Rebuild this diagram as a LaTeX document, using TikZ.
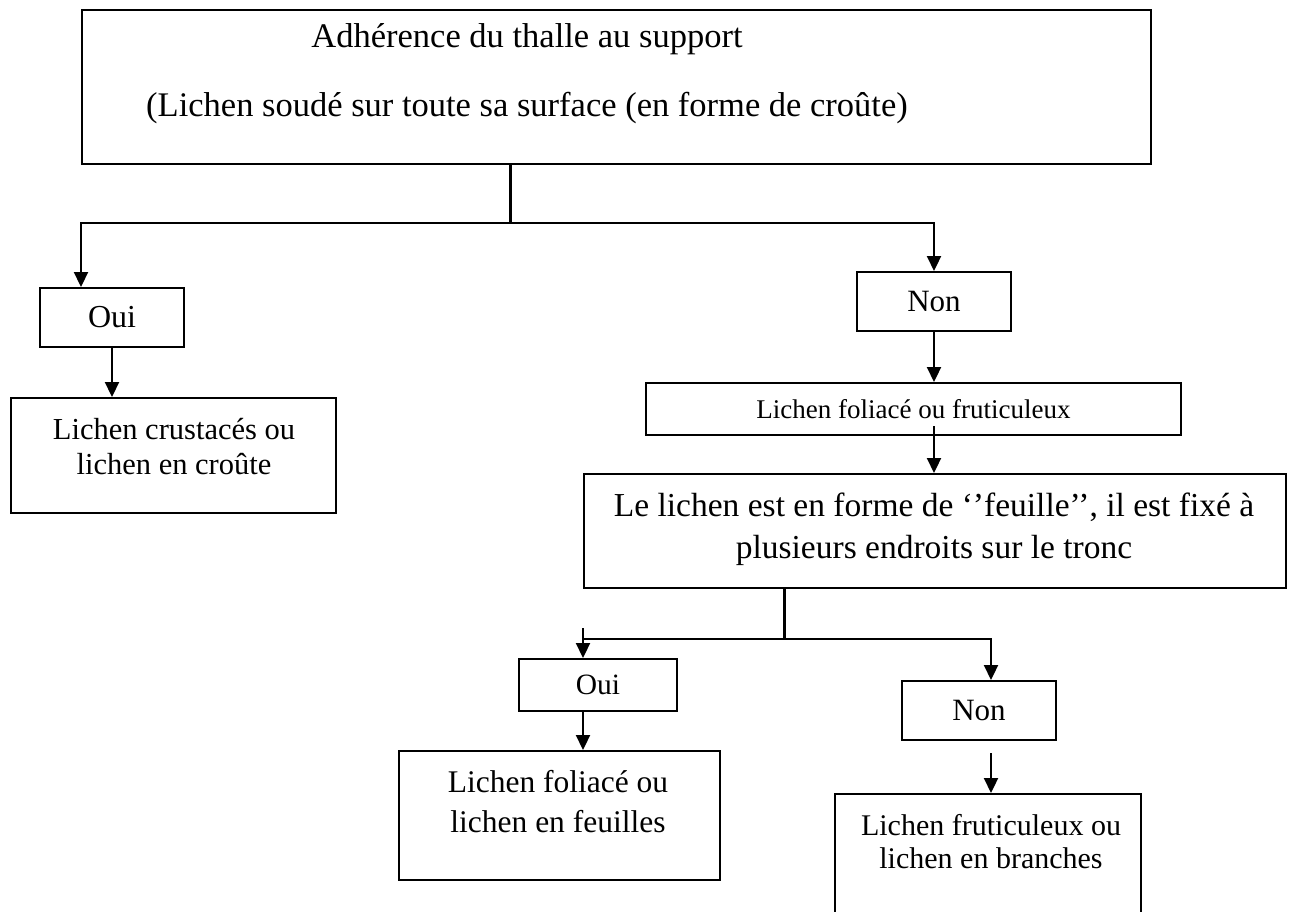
\documentclass[tikz,border=0pt]{standalone}
\usepackage{fontspec}
\setmainfont{Liberation Serif}
\usetikzlibrary{arrows.meta}

\begin{document}
\begin{tikzpicture}[x=1pt,y=-1pt,
  box/.style={draw,line width=2pt,anchor=north west,inner sep=0pt},
  txt/.style={align=center,inner sep=0pt,font=\fontsize{31}{36}\selectfont},
  ln/.style={line width=2.2pt},
  arr/.style={line width=2.2pt,-{Triangle[length=15pt,width=14pt]}}]

\useasboundingbox (0,0) rectangle (1308,911);
\clip (0,0) rectangle (1308,911);


\node[box,minimum width=1069pt,minimum height=154pt] (top) at (81,9) {};
\node[box,minimum width=144pt,minimum height=59pt] (oui1) at (39,287) {};
\node[box,minimum width=325pt,minimum height=115pt] (crust) at (10,397) {};
\node[box,minimum width=154pt,minimum height=59pt] (non1) at (856,271) {};
\node[box,minimum width=535pt,minimum height=52pt] (folfru) at (645,382) {};
\node[box,minimum width=702pt,minimum height=114pt] (big) at (583,473) {};
\node[box,minimum width=158pt,minimum height=52pt] (oui2) at (518,658) {};
\node[box,minimum width=154pt,minimum height=59pt] (non2) at (901,680) {};
\node[box,minimum width=321pt,minimum height=129pt] (leaf) at (398,750) {};
\node[box,minimum width=306pt,minimum height=130pt] (branch) at (834,793) {};


\node[txt,font=\fontsize{34.5}{40}\selectfont] (top-t) at (527,74)
  {Adhérence du thalle au support\\[29pt](Lichen soudé sur toute sa surface (en forme de croûte)};
\node[txt,font=\fontsize{32}{37}\selectfont] (oui1-t) at (oui1) {Oui};
\node[txt,font=\fontsize{30.5}{35}\selectfont] (crust-t) at (174,447) {Lichen crustacés ou\\lichen en croûte};
\node[txt] (non1-t) at (non1) {Non};
\node[txt,font=\fontsize{27}{30}\selectfont] (folfru-t) at (folfru) {Lichen foliacé ou fruticuleux};
\node[txt,font=\fontsize{33.5}{42}\selectfont] (big-t) at (934,529)
  {Le lichen est en forme de ‘’feuille’’, il est fixé à\\plusieurs endroits sur le tronc};
\node[txt,font=\fontsize{29.5}{35}\selectfont] (oui2-t) at (oui2) {Oui};
\node[txt] (non2-t) at (non2) {Non};
\node[txt,font=\fontsize{31.5}{40}\selectfont] (leaf-t) at (558,802) {Lichen foliacé ou\\lichen en feuilles};
\node[txt,font=\fontsize{30}{33}\selectfont] (branch-t) at (991,842) {Lichen fruticuleux ou\\lichen en branches};


% premier choix
\coordinate (j1) at (510,223);
\draw[line width=3pt] (top.south -| j1) -- (j1);
\draw[arr] (j1) -| (top.west |- oui1.north);
\draw[arr] (j1) -| (non1.north);
\draw[arr] (oui1.south) -- (oui1.south |- crust.north);
\draw[arr] (non1.south) -- (non1.south |- folfru.north);
\draw[arr] ([yshift=10pt]non1.south |- folfru.south) -- (non1.south |- big.north);

% second choix
\coordinate (j2) at (784,639);
\draw[line width=3pt] (big.south -| j2) -- (j2);
\draw[ln] (j2) -- (big.west |- j2);
\draw[arr] ([yshift=11pt]big.west |- j2) -- (big.west |- oui2.north);
\draw[arr] (j2) -| ([xshift=12pt]non2.north);
\draw[arr] (big.west |- oui2.south) -- (big.west |- leaf.north);
\draw[arr] ([xshift=12pt,yshift=-12pt]non2.south) -- ([xshift=12pt]non2.south |- branch.north);

\end{tikzpicture}
\end{document}
